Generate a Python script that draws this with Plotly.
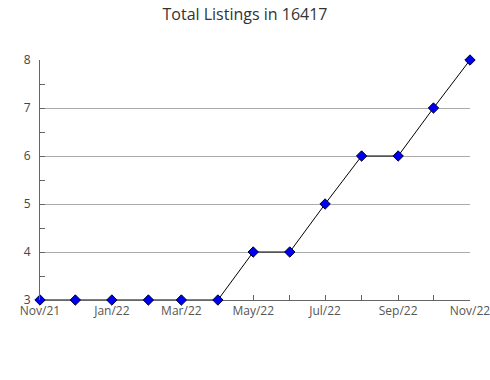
import plotly.graph_objects as go

months = ["2021-11-01", "2021-12-01", "2022-01-01", "2022-02-01", "2022-03-01", "2022-04-01",
          "2022-05-01", "2022-06-01", "2022-07-01", "2022-08-01", "2022-09-01", "2022-10-01", "2022-11-01"]
listings = [3, 3, 3, 3, 3, 3, 4, 4, 5, 6, 6, 7, 8]

fig = go.Figure()
fig.add_trace(go.Scatter(
    x=months, y=listings, mode="lines+markers",
    line=dict(color="black", width=1),
    marker=dict(symbol="diamond", size=8, color="#0000ee", line=dict(color="#000033", width=1)),
    cliponaxis=False,
))
fig.update_layout(
    width=490, height=380,
    margin=dict(l=40, r=20, t=60, b=80, autoexpand=False),
    paper_bgcolor="white", plot_bgcolor="white",
    showlegend=False,
    font=dict(family="Open Sans", color="#444"),
    title=dict(text="Total Listings in 16417", x=0.5, xanchor="center", y=0.962, yanchor="middle",
               font=dict(size=16, color="#333")),
)
fig.update_xaxes(
    range=["2021-11-01", "2022-11-01"], type="date", automargin=False,
    tickformat="%b/%y", dtick="M2", tick0="2021-11-01",
    ticks="inside", ticklen=5, tickcolor="#666", ticklabeloverflow="allow",
    minor=dict(dtick="M1", ticks="inside", ticklen=5, tickcolor="#666", showgrid=False),
    showline=True, linecolor="#666", linewidth=1, showgrid=False, zeroline=False,
    tickfont=dict(size=12, color="#555"),
    layer="below traces",
)
fig.update_yaxes(
    range=[3, 8], dtick=1, automargin=False,
    ticks="inside", ticklen=5, tickcolor="#666", ticklabelstandoff=6,
    minor=dict(dtick=0.5, ticks="inside", ticklen=5, tickcolor="#666", showgrid=False),
    showline=True, linecolor="#666", linewidth=1,
    showgrid=True, gridcolor="#aaa", gridwidth=1, zeroline=False,
    tickfont=dict(size=12, color="#444"),
)
fig.write_html("out.html")
